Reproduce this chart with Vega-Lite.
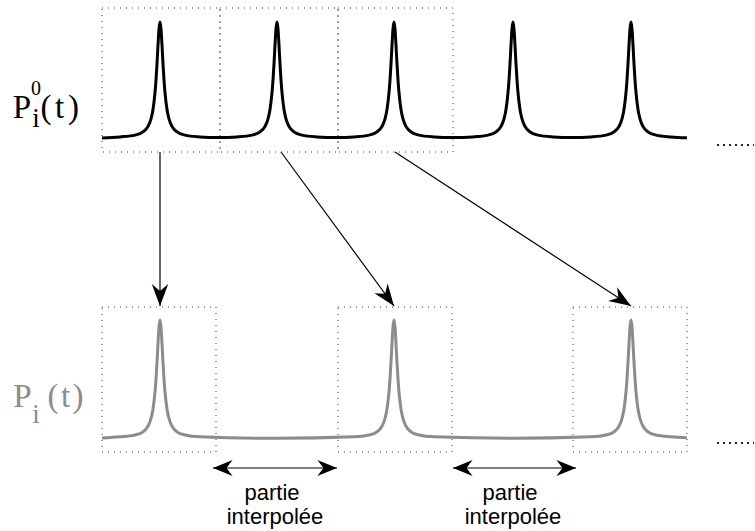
{
  "$schema": "https://vega.github.io/schema/vega-lite/v6.json",
  "width": 755,
  "height": 531,
  "padding": 0,
  "autosize": {"type": "fit", "contains": "padding"},
  "background": "white",
  "config": {"view": {"stroke": null}},
  "datasets": {
    "curves": [
      {"s":"top","t":102,"v":138},
      {"s":"top","t":120,"v":136.9},{"s":"top","t":135,"v":135.1},{"s":"top","t":143,"v":131.9},{"s":"top","t":148,"v":126.4},{"s":"top","t":151,"v":118.9},{"s":"top","t":153,"v":109.4},{"s":"top","t":155,"v":92.7},{"s":"top","t":156,"v":80},{"s":"top","t":157,"v":63.8},{"s":"top","t":158,"v":45.2},{"s":"top","t":159,"v":28.8},{"s":"top","t":160,"v":22},{"s":"top","t":161,"v":28.8},{"s":"top","t":162,"v":45.2},{"s":"top","t":163,"v":63.8},{"s":"top","t":164,"v":80},{"s":"top","t":165,"v":92.7},{"s":"top","t":167,"v":109.4},{"s":"top","t":169,"v":118.9},{"s":"top","t":172,"v":126.4},{"s":"top","t":177,"v":131.9},{"s":"top","t":185,"v":135.1},{"s":"top","t":200,"v":136.9},
      {"s":"top","t":218,"v":137.6},
      {"s":"top","t":237,"v":136.9},{"s":"top","t":252,"v":135.1},{"s":"top","t":260,"v":131.9},{"s":"top","t":265,"v":126.4},{"s":"top","t":268,"v":118.9},{"s":"top","t":270,"v":109.4},{"s":"top","t":272,"v":92.7},{"s":"top","t":273,"v":80},{"s":"top","t":274,"v":63.8},{"s":"top","t":275,"v":45.2},{"s":"top","t":276,"v":28.8},{"s":"top","t":277,"v":22},{"s":"top","t":278,"v":28.8},{"s":"top","t":279,"v":45.2},{"s":"top","t":280,"v":63.8},{"s":"top","t":281,"v":80},{"s":"top","t":282,"v":92.7},{"s":"top","t":284,"v":109.4},{"s":"top","t":286,"v":118.9},{"s":"top","t":289,"v":126.4},{"s":"top","t":294,"v":131.9},{"s":"top","t":302,"v":135.1},{"s":"top","t":317,"v":136.9},
      {"s":"top","t":336,"v":137.6},
      {"s":"top","t":354,"v":136.9},{"s":"top","t":369,"v":135.1},{"s":"top","t":377,"v":131.9},{"s":"top","t":382,"v":126.4},{"s":"top","t":385,"v":118.9},{"s":"top","t":387,"v":109.4},{"s":"top","t":389,"v":92.7},{"s":"top","t":390,"v":80},{"s":"top","t":391,"v":63.8},{"s":"top","t":392,"v":45.2},{"s":"top","t":393,"v":28.8},{"s":"top","t":394,"v":22},{"s":"top","t":395,"v":28.8},{"s":"top","t":396,"v":45.2},{"s":"top","t":397,"v":63.8},{"s":"top","t":398,"v":80},{"s":"top","t":399,"v":92.7},{"s":"top","t":401,"v":109.4},{"s":"top","t":403,"v":118.9},{"s":"top","t":406,"v":126.4},{"s":"top","t":411,"v":131.9},{"s":"top","t":419,"v":135.1},{"s":"top","t":434,"v":136.9},
      {"s":"top","t":453,"v":137.6},
      {"s":"top","t":473,"v":136.9},{"s":"top","t":488,"v":135.1},{"s":"top","t":496,"v":131.9},{"s":"top","t":501,"v":126.4},{"s":"top","t":504,"v":118.9},{"s":"top","t":506,"v":109.4},{"s":"top","t":508,"v":92.7},{"s":"top","t":509,"v":80},{"s":"top","t":510,"v":63.8},{"s":"top","t":511,"v":45.2},{"s":"top","t":512,"v":28.8},{"s":"top","t":513,"v":22},{"s":"top","t":514,"v":28.8},{"s":"top","t":515,"v":45.2},{"s":"top","t":516,"v":63.8},{"s":"top","t":517,"v":80},{"s":"top","t":518,"v":92.7},{"s":"top","t":520,"v":109.4},{"s":"top","t":522,"v":118.9},{"s":"top","t":525,"v":126.4},{"s":"top","t":530,"v":131.9},{"s":"top","t":538,"v":135.1},{"s":"top","t":553,"v":136.9},
      {"s":"top","t":572,"v":137.6},
      {"s":"top","t":591,"v":136.9},{"s":"top","t":606,"v":135.1},{"s":"top","t":614,"v":131.9},{"s":"top","t":619,"v":126.4},{"s":"top","t":622,"v":118.9},{"s":"top","t":624,"v":109.4},{"s":"top","t":626,"v":92.7},{"s":"top","t":627,"v":80},{"s":"top","t":628,"v":63.8},{"s":"top","t":629,"v":45.2},{"s":"top","t":630,"v":28.8},{"s":"top","t":631,"v":22},{"s":"top","t":632,"v":28.8},{"s":"top","t":633,"v":45.2},{"s":"top","t":634,"v":63.8},{"s":"top","t":635,"v":80},{"s":"top","t":636,"v":92.7},{"s":"top","t":638,"v":109.4},{"s":"top","t":640,"v":118.9},{"s":"top","t":643,"v":126.4},{"s":"top","t":648,"v":131.9},{"s":"top","t":656,"v":135.1},{"s":"top","t":671,"v":136.9},
      {"s":"top","t":687,"v":137.8},

      {"s":"bottom","t":102,"v":438},
      {"s":"bottom","t":120,"v":436.8},{"s":"bottom","t":135,"v":435},{"s":"bottom","t":143,"v":431.8},{"s":"bottom","t":148,"v":426.2},{"s":"bottom","t":151,"v":418.5},{"s":"bottom","t":153,"v":409},{"s":"bottom","t":155,"v":392},{"s":"bottom","t":156,"v":379},{"s":"bottom","t":157,"v":362.5},{"s":"bottom","t":158,"v":343.6},{"s":"bottom","t":159,"v":327},{"s":"bottom","t":160,"v":320},{"s":"bottom","t":161,"v":327},{"s":"bottom","t":162,"v":343.6},{"s":"bottom","t":163,"v":362.5},{"s":"bottom","t":164,"v":379},{"s":"bottom","t":165,"v":392},{"s":"bottom","t":167,"v":409},{"s":"bottom","t":169,"v":418.5},{"s":"bottom","t":172,"v":426.2},{"s":"bottom","t":177,"v":431.8},{"s":"bottom","t":185,"v":435},{"s":"bottom","t":200,"v":436.8},
      {"s":"bottom","t":277,"v":438.3},
      {"s":"bottom","t":354,"v":436.8},{"s":"bottom","t":369,"v":435},{"s":"bottom","t":377,"v":431.8},{"s":"bottom","t":382,"v":426.2},{"s":"bottom","t":385,"v":418.5},{"s":"bottom","t":387,"v":409},{"s":"bottom","t":389,"v":392},{"s":"bottom","t":390,"v":379},{"s":"bottom","t":391,"v":362.5},{"s":"bottom","t":392,"v":343.6},{"s":"bottom","t":393,"v":327},{"s":"bottom","t":394,"v":320},{"s":"bottom","t":395,"v":327},{"s":"bottom","t":396,"v":343.6},{"s":"bottom","t":397,"v":362.5},{"s":"bottom","t":398,"v":379},{"s":"bottom","t":399,"v":392},{"s":"bottom","t":401,"v":409},{"s":"bottom","t":403,"v":418.5},{"s":"bottom","t":406,"v":426.2},{"s":"bottom","t":411,"v":431.8},{"s":"bottom","t":419,"v":435},{"s":"bottom","t":434,"v":436.8},
      {"s":"bottom","t":512,"v":438.3},
      {"s":"bottom","t":591,"v":436.8},{"s":"bottom","t":606,"v":435},{"s":"bottom","t":614,"v":431.8},{"s":"bottom","t":619,"v":426.2},{"s":"bottom","t":622,"v":418.5},{"s":"bottom","t":624,"v":409},{"s":"bottom","t":626,"v":392},{"s":"bottom","t":627,"v":379},{"s":"bottom","t":628,"v":362.5},{"s":"bottom","t":629,"v":343.6},{"s":"bottom","t":630,"v":327},{"s":"bottom","t":631,"v":320},{"s":"bottom","t":632,"v":327},{"s":"bottom","t":633,"v":343.6},{"s":"bottom","t":634,"v":362.5},{"s":"bottom","t":635,"v":379},{"s":"bottom","t":636,"v":392},{"s":"bottom","t":638,"v":409},{"s":"bottom","t":640,"v":418.5},{"s":"bottom","t":643,"v":426.2},{"s":"bottom","t":648,"v":431.8},{"s":"bottom","t":656,"v":435},{"s":"bottom","t":671,"v":436.8},
      {"s":"bottom","t":687,"v":437.8}
    ],
    "boxes": [
      {"x":102,"x2":220,"y":8,"y2":152},
      {"x":220,"x2":338,"y":8,"y2":152},
      {"x":338,"x2":453,"y":8,"y2":152},
      {"x":102,"x2":216,"y":307,"y2":452},
      {"x":338,"x2":452,"y":307,"y2":452},
      {"x":573,"x2":687,"y":307,"y2":452}
    ],
    "arrows": [
      {"k":"single","x":160,"y":152,"x2":160,"y2":306},
      {"k":"single","x":281,"y":152,"x2":394,"y2":306},
      {"k":"single","x":395,"y":152,"x2":631,"y2":306},
      {"k":"double","x":213,"y":468,"x2":337,"y2":468},
      {"k":"double","x":453,"y":468,"x2":576,"y2":468}
    ],
    "ellipsis": [
      {"x":717,"x2":754,"y":145},
      {"x":717,"x2":754,"y":443}
    ],
    "labels": [
      {"txt":"P","x":22,"y":118,"role":"main","s":"top"},
      {"txt":"0","x":36,"y":95,"role":"sup","s":"top"},
      {"txt":"i","x":36,"y":127,"role":"sub","s":"top"},
      {"txt":"(","x":46,"y":118,"role":"main","s":"top"},
      {"txt":"t","x":59.5,"y":118,"role":"main","s":"top"},
      {"txt":")","x":73.5,"y":118,"role":"main","s":"top"},
      {"txt":"P","x":22.5,"y":407,"role":"main","s":"bottom"},
      {"txt":"i","x":36,"y":423,"role":"sub","s":"bottom"},
      {"txt":"(","x":53,"y":407,"role":"main","s":"bottom"},
      {"txt":"t","x":65.5,"y":407,"role":"main","s":"bottom"},
      {"txt":")","x":78,"y":407,"role":"main","s":"bottom"}
    ],
    "notes": [
      {"txt":"partie","x":272,"y":500},
      {"txt":"interpolée","x":275,"y":524},
      {"txt":"partie","x":510,"y":500},
      {"txt":"interpolée","x":513,"y":524}
    ]
  },
  "layer": [
    {
      "data": {"name": "boxes"},
      "mark": {"type": "rect", "fillOpacity": 0, "stroke": "#3a3a3a", "strokeWidth": 1, "strokeDash": [1, 5]},
      "encoding": {
        "x": {"field": "x", "type": "quantitative", "scale": {"domain": [0, 755], "nice": false, "zero": false}, "axis": null},
        "x2": {"field": "x2"},
        "y": {"field": "y", "type": "quantitative", "scale": {"domain": [0, 531], "nice": false, "zero": false, "reverse": true}, "axis": null},
        "y2": {"field": "y2"}
      }
    },
    {
      "data": {"name": "curves"},
      "mark": {"type": "line", "strokeWidth": 3, "interpolate": "monotone", "strokeJoin": "round"},
      "encoding": {
        "x": {"field": "t", "type": "quantitative"},
        "y": {"field": "v", "type": "quantitative"},
        "color": {"field": "s", "type": "nominal", "scale": {"domain": ["top", "bottom"], "range": ["#000000", "#8c8c8c"]}, "legend": null}
      }
    },
    {
      "data": {"name": "arrows"},
      "mark": {"type": "rule", "color": "black", "strokeWidth": 1.2},
      "encoding": {
        "x": {"field": "x", "type": "quantitative"},
        "y": {"field": "y", "type": "quantitative"},
        "x2": {"field": "x2"},
        "y2": {"field": "y2"}
      }
    },
    {
      "data": {"name": "arrows"},
      "transform": [
        {"filter": "datum.k === 'single'"},
        {"calculate": "-atan2(datum.x2 - datum.x, datum.y2 - datum.y) * 180 / PI", "as": "ang"}
      ],
      "mark": {"type": "point", "shape": "M0,0L-0.6,-1.6L0,-1.1L0.6,-1.6Z", "filled": true, "color": "black", "opacity": 1, "size": 750, "strokeWidth": 0},
      "encoding": {
        "x": {"field": "x2", "type": "quantitative"},
        "y": {"field": "y2", "type": "quantitative"},
        "angle": {"field": "ang", "type": "quantitative", "scale": null}
      }
    },
    {
      "data": {"name": "arrows"},
      "transform": [
        {"filter": "datum.k === 'double'"},
        {"calculate": "-atan2(datum.x2 - datum.x, datum.y2 - datum.y) * 180 / PI", "as": "ang"}
      ],
      "mark": {"type": "point", "shape": "M0,0L-0.65,-1.6L0,-1.1L0.65,-1.6Z", "filled": true, "color": "black", "opacity": 1, "size": 600, "strokeWidth": 0},
      "encoding": {
        "x": {"field": "x2", "type": "quantitative"},
        "y": {"field": "y2", "type": "quantitative"},
        "angle": {"field": "ang", "type": "quantitative", "scale": null}
      }
    },
    {
      "data": {"name": "arrows"},
      "transform": [
        {"filter": "datum.k === 'double'"},
        {"calculate": "180 - atan2(datum.x2 - datum.x, datum.y2 - datum.y) * 180 / PI", "as": "ang"}
      ],
      "mark": {"type": "point", "shape": "M0,0L-0.65,-1.6L0,-1.1L0.65,-1.6Z", "filled": true, "color": "black", "opacity": 1, "size": 600, "strokeWidth": 0},
      "encoding": {
        "x": {"field": "x", "type": "quantitative"},
        "y": {"field": "y", "type": "quantitative"},
        "angle": {"field": "ang", "type": "quantitative", "scale": null}
      }
    },
    {
      "data": {"name": "ellipsis"},
      "mark": {"type": "rule", "color": "#222222", "strokeWidth": 2, "strokeDash": [2, 4]},
      "encoding": {
        "x": {"field": "x", "type": "quantitative"},
        "x2": {"field": "x2"},
        "y": {"field": "y", "type": "quantitative"}
      }
    },
    {
      "data": {"name": "labels"},
      "transform": [{"filter": "datum.role === 'main'"}],
      "mark": {"type": "text", "font": "Liberation Serif", "fontSize": 33, "align": "center", "baseline": "alphabetic"},
      "encoding": {
        "x": {"field": "x", "type": "quantitative"},
        "y": {"field": "y", "type": "quantitative"},
        "text": {"field": "txt", "type": "nominal"},
        "color": {"field": "s", "type": "nominal", "legend": null}
      }
    },
    {
      "data": {"name": "labels"},
      "transform": [{"filter": "datum.role === 'sup'"}],
      "mark": {"type": "text", "font": "Liberation Serif", "fontSize": 20, "align": "center", "baseline": "alphabetic"},
      "encoding": {
        "x": {"field": "x", "type": "quantitative"},
        "y": {"field": "y", "type": "quantitative"},
        "text": {"field": "txt", "type": "nominal"},
        "color": {"field": "s", "type": "nominal", "legend": null}
      }
    },
    {
      "data": {"name": "labels"},
      "transform": [{"filter": "datum.role === 'sub'"}],
      "mark": {"type": "text", "font": "Liberation Serif", "fontSize": 27, "align": "center", "baseline": "alphabetic"},
      "encoding": {
        "x": {"field": "x", "type": "quantitative"},
        "y": {"field": "y", "type": "quantitative"},
        "text": {"field": "txt", "type": "nominal"},
        "color": {"field": "s", "type": "nominal", "legend": null}
      }
    },
    {
      "data": {"name": "notes"},
      "mark": {"type": "text", "font": "Liberation Sans", "fontSize": 22, "align": "center", "baseline": "alphabetic", "color": "black"},
      "encoding": {
        "x": {"field": "x", "type": "quantitative"},
        "y": {"field": "y", "type": "quantitative"},
        "text": {"field": "txt", "type": "nominal"}
      }
    }
  ]
}
